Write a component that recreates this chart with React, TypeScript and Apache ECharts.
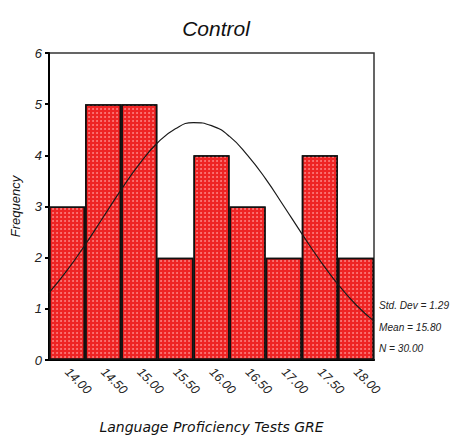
import React, { useEffect, useRef } from "react";
import * as echarts from "echarts";

const binLabels = ["14.00", "14.50", "15.00", "15.50", "16.00", "16.50", "17.00", "17.50", "18.00"];
const frequencies = [3, 5, 5, 2, 4, 3, 2, 4, 2];
const curveX = [13.75, 14.0, 14.25, 14.5, 14.75, 15.0, 15.25, 15.5, 15.75, 16.0, 16.25, 16.5, 16.75, 17.0, 17.25, 17.5, 17.75, 18.0, 18.25];
const curveY = [1.31, 1.75, 2.25, 2.79, 3.33, 3.83, 4.24, 4.52, 4.64, 4.58, 4.37, 4.0, 3.54, 3.01, 2.47, 1.95, 1.48, 1.08, 0.76];
const statsLines = ["Std. Dev = 1.29", "Mean = 15.80", "N = 30.00"];

const FONT = "'Liberation Sans', Arial, sans-serif";

export default function App() {
  const ref = useRef<HTMLDivElement>(null);
  useEffect(() => {
    if (!ref.current) return;
    const chart = echarts.init(ref.current, null, { renderer: "svg" });
    chart.setOption({
      animation: false,
      backgroundColor: "#ffffff",
      title: {
        text: "Control",
        left: 211,
        textAlign: "center",
        top: 13,
        textStyle: { fontFamily: FONT, fontStyle: "italic", fontWeight: "normal", fontSize: 21, color: "#111" },
      },
      grid: {
        left: 49, right: 86, top: 53, bottom: 76,
        outerBoundsMode: "none",
        containLabel: false,
        show: true, borderColor: "#333", borderWidth: 1.5, backgroundColor: "transparent",
      },
      xAxis: [
        {
          type: "category",
          data: binLabels,
          boundaryGap: true,
          axisLine: { lineStyle: { color: "#000", width: 2 } },
          axisTick: { alignWithLabel: true, length: 4, lineStyle: { color: "#000", width: 3 } },
          axisLabel: {
            rotate: -45, margin: 10, fontFamily: FONT, fontStyle: "italic", fontSize: 12.5, color: "#222",
          },
          name: "Language Proficiency Tests GRE",
          nameLocation: "middle",
          nameGap: 60,
          nameTextStyle: { fontFamily: "'DejaVu Sans', sans-serif", fontStyle: "italic", fontSize: 14, color: "#111" },
        },
        { type: "value", min: 13.75, max: 18.25, show: false },
      ],
      yAxis: {
        type: "value",
        min: 0, max: 6, interval: 1,
        axisLine: { show: true, lineStyle: { color: "#000", width: 2 } },
        axisTick: { show: true, length: 4, lineStyle: { color: "#000", width: 2 } },
        axisLabel: { fontFamily: FONT, fontStyle: "italic", fontSize: 13, color: "#222", margin: 7 },
        splitLine: { show: false },
        name: "Frequency",
        nameLocation: "middle",
        nameGap: 27,
        nameTextStyle: { fontFamily: FONT, fontStyle: "italic", fontSize: 13, color: "#111" },
      },
      graphic: statsLines.map((t, i) => ({
        type: "text",
        x: 379,
        y: 299 + i * 21.5,
        scaleX: 0.88,
        style: { text: t, font: `italic 11.5px ${FONT}`, fill: "#222" },
      })),
      series: [
        {
          type: "bar",
          xAxisIndex: 0,
          data: frequencies,
          barCategoryGap: "0%",
          itemStyle: {
            color: "#ee2424",
            borderColor: "#111",
            borderWidth: 1.5,
            decal: {
              symbol: "circle",
              symbolSize: 0.9,
              dashArrayX: [1.5, 1.5],
              dashArrayY: [1.5, 1.5],
              color: "rgba(255,150,150,0.85)",
              rotation: 0,
            },
          },
          z: 2,
        },
        {
          type: "line",
          xAxisIndex: 1,
          data: curveX.map((x, i) => [x, curveY[i]]),
          smooth: true,
          symbol: "none",
          lineStyle: { color: "#1a1a1a", width: 1.2 },
          z: 3,
        },
      ],
    });
    return () => chart.dispose();
  }, []);
  return <div ref={ref} style={{ position: "absolute", left: 0, top: 0, width: 460, height: 436 }} />;
}
